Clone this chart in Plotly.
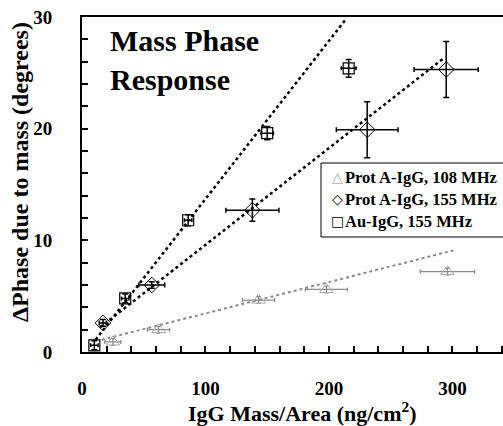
import plotly.graph_objects as go

# Prot A-IgG, 108 MHz (triangles)
tri_x = [25, 62, 143, 198, 296]
tri_y = [0.9, 2.0, 4.65, 5.6, 7.2]
tri_ex = [6.5, 9, 13, 17, 22]
tri_ey = [0.3, 0.3, 0.3, 0.3, 0.3]
tri_fit_x = [16, 301]
tri_fit_y = [1.1, 9.1]

# Prot A-IgG, 155 MHz (diamonds)
dia_x = [17, 56.5, 138, 231, 295]
dia_y = [2.6, 6.0, 12.7, 19.9, 25.3]
dia_ex = [3, 10.5, 21.5, 25, 26]
dia_ey = [0.3, 0.3, 1.0, 2.5, 2.5]
dia_fit_x = [14.6, 294]
dia_fit_y = [2.2, 26.4]

# Au-IgG, 155 MHz (squares)
sq_x = [10, 35, 86, 150, 216]
sq_y = [0.6, 4.8, 11.8, 19.6, 25.4]
sq_ex = [3, 3, 3, 5, 6]
sq_ey = [0.4, 0.4, 0.5, 0.6, 0.8]
sq_fit_x = [11, 213]
sq_fit_y = [1.1, 29.7]

legend_names = ["Prot A-IgG, 108 MHz", "Prot A-IgG, 155 MHz", "Au-IgG, 155 MHz"]
legend_glyphs = ["△", "◇", "□"]

FONT = "Liberation Serif"
GRAY = "#8a8a8a"
LIGHT = "#aaaaaa"
BLACK = "#000000"

W, H = 503, 426
L, R, T, B = 82, 0, 17, 74
PW, PH = W - L - R, H - T - B


def px(x):
    return (x - L) / PW


def py(y):
    return (H - B - y) / PH


fig = go.Figure()

# trend lines
fig.add_trace(go.Scatter(x=tri_fit_x, y=tri_fit_y, mode="lines",
                         line=dict(color=GRAY, width=2, dash="dot"), showlegend=False, hoverinfo="skip"))
fig.add_trace(go.Scatter(x=dia_fit_x, y=dia_fit_y, mode="lines",
                         line=dict(color=BLACK, width=2.5, dash="dot"), showlegend=False, hoverinfo="skip"))
fig.add_trace(go.Scatter(x=sq_fit_x, y=sq_fit_y, mode="lines",
                         line=dict(color=BLACK, width=2.5, dash="dot"), showlegend=False, hoverinfo="skip"))

# data points
fig.add_trace(go.Scatter(x=tri_x, y=tri_y, mode="markers", name=legend_names[0],
                         marker=dict(symbol="triangle-up-open", size=12, color=LIGHT, line=dict(width=1)),
                         error_x=dict(type="data", array=tri_ex, color=GRAY, thickness=1.3, width=2),
                         error_y=dict(type="data", array=tri_ey, color=GRAY, thickness=1.3, width=2),
                         showlegend=False))
fig.add_trace(go.Scatter(x=dia_x, y=dia_y, mode="markers", name=legend_names[1],
                         marker=dict(symbol="diamond-open", size=12, color=BLACK, line=dict(width=1)),
                         error_x=dict(type="data", array=dia_ex, color=BLACK, thickness=1.5, width=2.5),
                         error_y=dict(type="data", array=dia_ey, color=BLACK, thickness=1.5, width=3),
                         showlegend=False))
fig.add_trace(go.Scatter(x=sq_x, y=sq_y, mode="markers", name=legend_names[2],
                         marker=dict(symbol="square-open", size=11, color=BLACK, line=dict(width=1.2)),
                         error_x=dict(type="data", array=sq_ex, color=BLACK, thickness=1.5, width=2),
                         error_y=dict(type="data", array=sq_ey, color=BLACK, thickness=1.5, width=3),
                         showlegend=False))

annotations = [
    dict(text="Mass Phase<br>Response", xref="paper", yref="paper", x=px(108), y=py(22),
         xanchor="left", yanchor="top", align="left", showarrow=False,
         font=dict(family=FONT, size=30, color=BLACK, weight="bold")),
    dict(text="IgG Mass/Area (ng/cm<sup>2</sup>)", xref="paper", yref="paper",
         x=px(302), y=py(412), xanchor="center", yanchor="middle", showarrow=False,
         font=dict(family=FONT, size=22, color=BLACK, weight="bold")),
    dict(text="ΔPhase due to mass (degrees)", xref="paper", yref="paper",
         x=px(20), y=py(172), xanchor="center", yanchor="middle", textangle=-90, showarrow=False,
         font=dict(family=FONT, size=24, color=BLACK, weight="bold")),
]

# legend drawn as text
row_y = [177, 199, 221]
glyph_colors = [LIGHT, BLACK, BLACK]
for name, glyph, col, ry in zip(legend_names, legend_glyphs, glyph_colors, row_y):
    annotations.append(dict(text=glyph, xref="paper", yref="paper", x=px(337), y=py(ry),
                            xanchor="center", yanchor="middle", showarrow=False,
                            font=dict(family="DejaVu Sans", size=14, color=col)))
    annotations.append(dict(text=name, xref="paper", yref="paper", x=px(343), y=py(ry),
                            xanchor="left", yanchor="middle", showarrow=False,
                            font=dict(family=FONT, size=16.5, color=BLACK, weight="bold")))

shapes = [dict(type="rect", xref="paper", yref="paper", x0=px(321), x1=px(510), y0=py(237), y1=py(163),
               line=dict(color=BLACK, width=1), fillcolor="white", layer="above")]

fig.update_layout(
    width=W, height=H,
    margin=dict(l=L, r=R, t=T, b=B, autoexpand=False),
    paper_bgcolor="white", plot_bgcolor="white",
    font=dict(family=FONT, color=BLACK),
    showlegend=False,
    xaxis=dict(range=[0, 341], showgrid=False, zeroline=False, automargin=False,
               showline=True, linecolor=BLACK, linewidth=2, mirror=True,
               tickmode="array", tickvals=[0, 100, 200, 300], ticktext=["0", "100", "200", "300"],
               ticks="inside", ticklen=6, tickwidth=1.5, tickcolor=BLACK,
               minor=dict(dtick=20, ticks="inside", ticklen=6, tickwidth=1.5, tickcolor=BLACK),
               tickfont=dict(family=FONT, size=19, color=BLACK, weight="bold"),
               ticklabelstandoff=18),
    yaxis=dict(range=[0, 30], showgrid=False, zeroline=False, automargin=False,
               showline=True, linecolor=BLACK, linewidth=2,
               tickmode="array", tickvals=[0, 10, 20, 30], ticktext=["0", "10", "20", "30"],
               ticks="inside", ticklen=6, tickwidth=1.5, tickcolor=BLACK,
               minor=dict(dtick=2, ticks="inside", ticklen=6, tickwidth=1.5, tickcolor=BLACK),
               tickfont=dict(family=FONT, size=19, color=BLACK, weight="bold"),
               ticklabelstandoff=24),
    annotations=annotations,
    shapes=shapes,
)

fig.write_html("out.html", config={"displayModeBar": False},
               post_script="document.body.style.margin='0';document.body.style.overflow='hidden';")
